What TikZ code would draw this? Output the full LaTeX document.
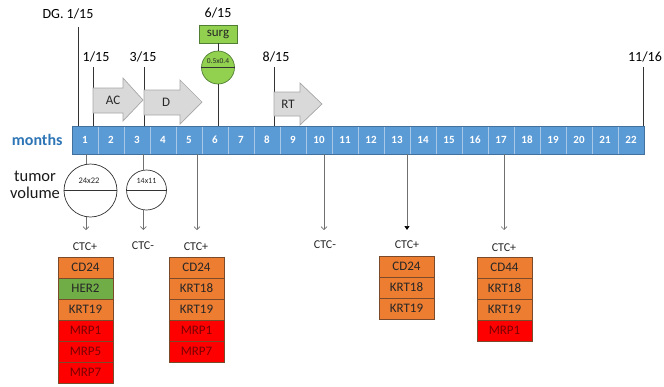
\documentclass[tikz,border=0pt]{standalone}
\usepackage{fontspec}
\setmainfont{Carlito}
\usetikzlibrary{arrows.meta}
\definecolor{barblue}{HTML}{5B9BD5}
\definecolor{barline}{HTML}{A9C8E8}
\definecolor{baredge}{HTML}{41719C}
\definecolor{monthblue}{HTML}{2E75B6}
\definecolor{orng}{HTML}{ED7D31}
\definecolor{grn}{HTML}{70AD47}
\definecolor{lgrn}{HTML}{92D050}
\definecolor{grnedge}{HTML}{507E32}
\definecolor{rd}{HTML}{FF0000}
\definecolor{rdtext}{HTML}{7A0000}
\definecolor{boxedge}{HTML}{7A4A2A}
\definecolor{arrfill}{HTML}{D9D9D9}
\definecolor{arredge}{HTML}{A6A6A6}
\definecolor{linegray}{HTML}{707070}
\tikzset{
  cell/.style={draw=barline, fill=barblue, minimum width=26pt, minimum height=28pt,
    inner sep=0pt, text=white, font=\fontsize{11}{11}\selectfont\bfseries},
  datelbl/.style={font=\fontsize{14}{14}\selectfont, inner sep=1pt},
  tick/.style={draw=black!80, line width=0.7pt},
  phase/.style={draw=arredge, fill=arrfill, line width=0.7pt, line join=miter},
  phaselbl/.style={font=\fontsize{13}{13}\selectfont, text=black!85},
  tumour/.style={circle, draw=black!80, line width=0.7pt, fill=white, inner sep=0pt},
  drop/.style={draw=linegray, line width=0.7pt, -{Straight Barb[length=3pt,width=6pt]}},
  dropfill/.style={draw=linegray, line width=0.7pt, -{Triangle[length=4pt,width=5pt,fill=black,color=black]}},
  ctc/.style={font=\fontsize{12}{12}\selectfont, text=black!85, inner sep=0pt},
  marker/.style={draw=boxedge, line width=0.5pt, minimum width=55pt, minimum height=21pt,
    inner sep=0pt, font=\fontsize{13}{13}\selectfont},
  mo/.style={marker, fill=orng, text=black!85},
  mg/.style={marker, fill=grn, text=black!85},
  mr/.style={marker, fill=rd, text=rdtext},
}
\begin{document}
\begin{tikzpicture}[x=1pt,y=-1pt]
\useasboundingbox (0,0) rectangle (664,386);

% month bar
\foreach \i in {1,...,22}{
  \node[cell] (c\i) at ({72+26*\i-13},140) {\i};
}
\draw[baredge, line width=0.6pt] (c1.north west) rectangle (c22.south east);
\node[font=\fontsize{16}{16}\selectfont\bfseries, text=monthblue, anchor=east] (months) at (66,140) {months};

% dates above the bar
\node[datelbl] (dg) at (68,14) {DG. 1/15};
\node[datelbl] (d1) at (96,57) {1/15};
\node[datelbl] (d3) at (143,57) {3/15};
\node[datelbl] (d6) at (218,13) {6/15};
\node[datelbl] (d8) at (276,57) {8/15};
\node[datelbl] (d11) at (645,57) {11/16};

\coordinate (tdg) at (78,27);
\coordinate (t1) at (93,67);
\coordinate (t3) at (144,67);
\coordinate (t8) at (274,67);
\coordinate (t11) at (643,67);
\draw[tick] (tdg) -- (tdg |- c1.north);
\draw[tick] (t1) -- (t1 |- c1.north);
\draw[tick] (t3) -- (t3 |- c1.north);
\draw[tick] (t8) -- (t8 |- c1.north);
\draw[tick] (t11) -- (t11 |- c1.north);

% surgery
\node[draw=grnedge, fill=lgrn, line width=0.7pt, minimum width=38pt, minimum height=18pt,
  inner sep=0pt, font=\fontsize{13}{13}\selectfont, text=black!85] (surg) at (218,34) {surg};
\node[circle, draw=grnedge, fill=lgrn, line width=0.7pt, minimum size=33pt, inner sep=0pt] (op) at (218,67.5) {};
\draw[black!80, line width=0.7pt] (op.west) -- (op.east);
\node[font=\fontsize{7.5}{7.5}\selectfont, text=black!85] at (218,61) {0.5x0.4};
\draw[tick] (surg.south) -- (op.north);
\draw[tick] (op.south) -- (op.south |- c1.north);

% treatment phases
\draw[phase] (93,88) -- (123,88) -- (123,78) -- (143,100) -- (123,121) -- (123,113) -- (93,113) -- cycle;
\node[phaselbl] (ac) at (113,100.5) {AC};
\draw[phase] (144,90) -- (180,90) -- (180,80) -- (202,102) -- (180,124) -- (180,115) -- (144,115) -- cycle;
\node[phaselbl] (dd) at (166,102) {D};
\draw[phase] (274,92) -- (300,92) -- (300,83) -- (322,104) -- (300,125) -- (300,116) -- (274,116) -- cycle;
\node[phaselbl] (rt) at (288,104) {RT};

% tumour volume
\node[font=\fontsize{16.5}{17}\selectfont, align=center, text=black!90] (tv) at (35,185) {tumor\\volume};
\node[tumour, minimum size=53pt] (v1) at (90.5,190.5) {};
\draw[black!80, line width=0.7pt] (v1.west) -- (v1.east);
\node[font=\fontsize{8.5}{8.5}\selectfont, text=black!85] at (89,181) {24x22};
\node[tumour, minimum size=40pt] (v2) at (146.5,190) {};
\draw[black!80, line width=0.7pt] (v2.west) -- (v2.east);
\node[font=\fontsize{8}{8}\selectfont, text=black!85] at (146.5,181) {14x11};

\coordinate (s1) at (86,154);
\coordinate (s3) at (143.3,154);
\draw[linegray, line width=0.7pt] (s1) -- (s1 |- v1.north);
\draw[linegray, line width=0.7pt] (s3) -- (s3 |- v2.north);

% samples
\coordinate (e1) at (86,230);
\coordinate (e3) at (143.3,230);
\coordinate (e5) at (197,230);
\coordinate (e10) at (324,230);
\coordinate (e13) at (407,230);
\coordinate (e17) at (504,230);
\draw[drop] (e1 |- v1.south) -- (e1);
\draw[drop] (e3 |- v2.south) -- (e3);
\draw[drop] (e5 |- c1.south) -- (e5);
\draw[drop] (e10 |- c1.south) -- (e10);
\draw[dropfill] (e13 |- c1.south) -- (e13);
\draw[drop] (e17 |- c1.south) -- (e17);

\node[ctc] (k1) at (85,247) {CTC+};
\node[ctc] (k3) at (143,246) {CTC-};
\node[ctc] (k5) at (196,247) {CTC+};
\node[ctc] (k10) at (325,245) {CTC-};
\node[ctc] (k13) at (407,245) {CTC+};
\node[ctc] (k17) at (504,248) {CTC+};

% marker columns
\node[mo] (a1) at (85.5,267.5) {CD24};
\node[mg] (a2) at (85.5,288.5) {HER2};
\node[mo] (a3) at (85.5,309.5) {KRT19};
\node[mr] (a4) at (85.5,330.5) {MRP1};
\node[mr] (a5) at (85.5,351.5) {MRP5};
\node[mr] (a6) at (85.5,372.5) {MRP7};

\node[mo] (b1) at (196.5,267.5) {CD24};
\node[mo] (b2) at (196.5,288.5) {KRT18};
\node[mo] (b3) at (196.5,309.5) {KRT19};
\node[mr] (b4) at (196.5,330.5) {MRP1};
\node[mr] (b5) at (196.5,351.5) {MRP7};

\node[mo] (m1) at (406.5,266.5) {CD24};
\node[mo] (m2) at (406.5,287.5) {KRT18};
\node[mo] (m3) at (406.5,308.5) {KRT19};

\node[mo] (n1) at (504.5,267.5) {CD44};
\node[mo] (n2) at (504.5,288.5) {KRT18};
\node[mo] (n3) at (504.5,309.5) {KRT19};
\node[mr] (n4) at (504.5,330.5) {MRP1};
\end{tikzpicture}
\end{document}
